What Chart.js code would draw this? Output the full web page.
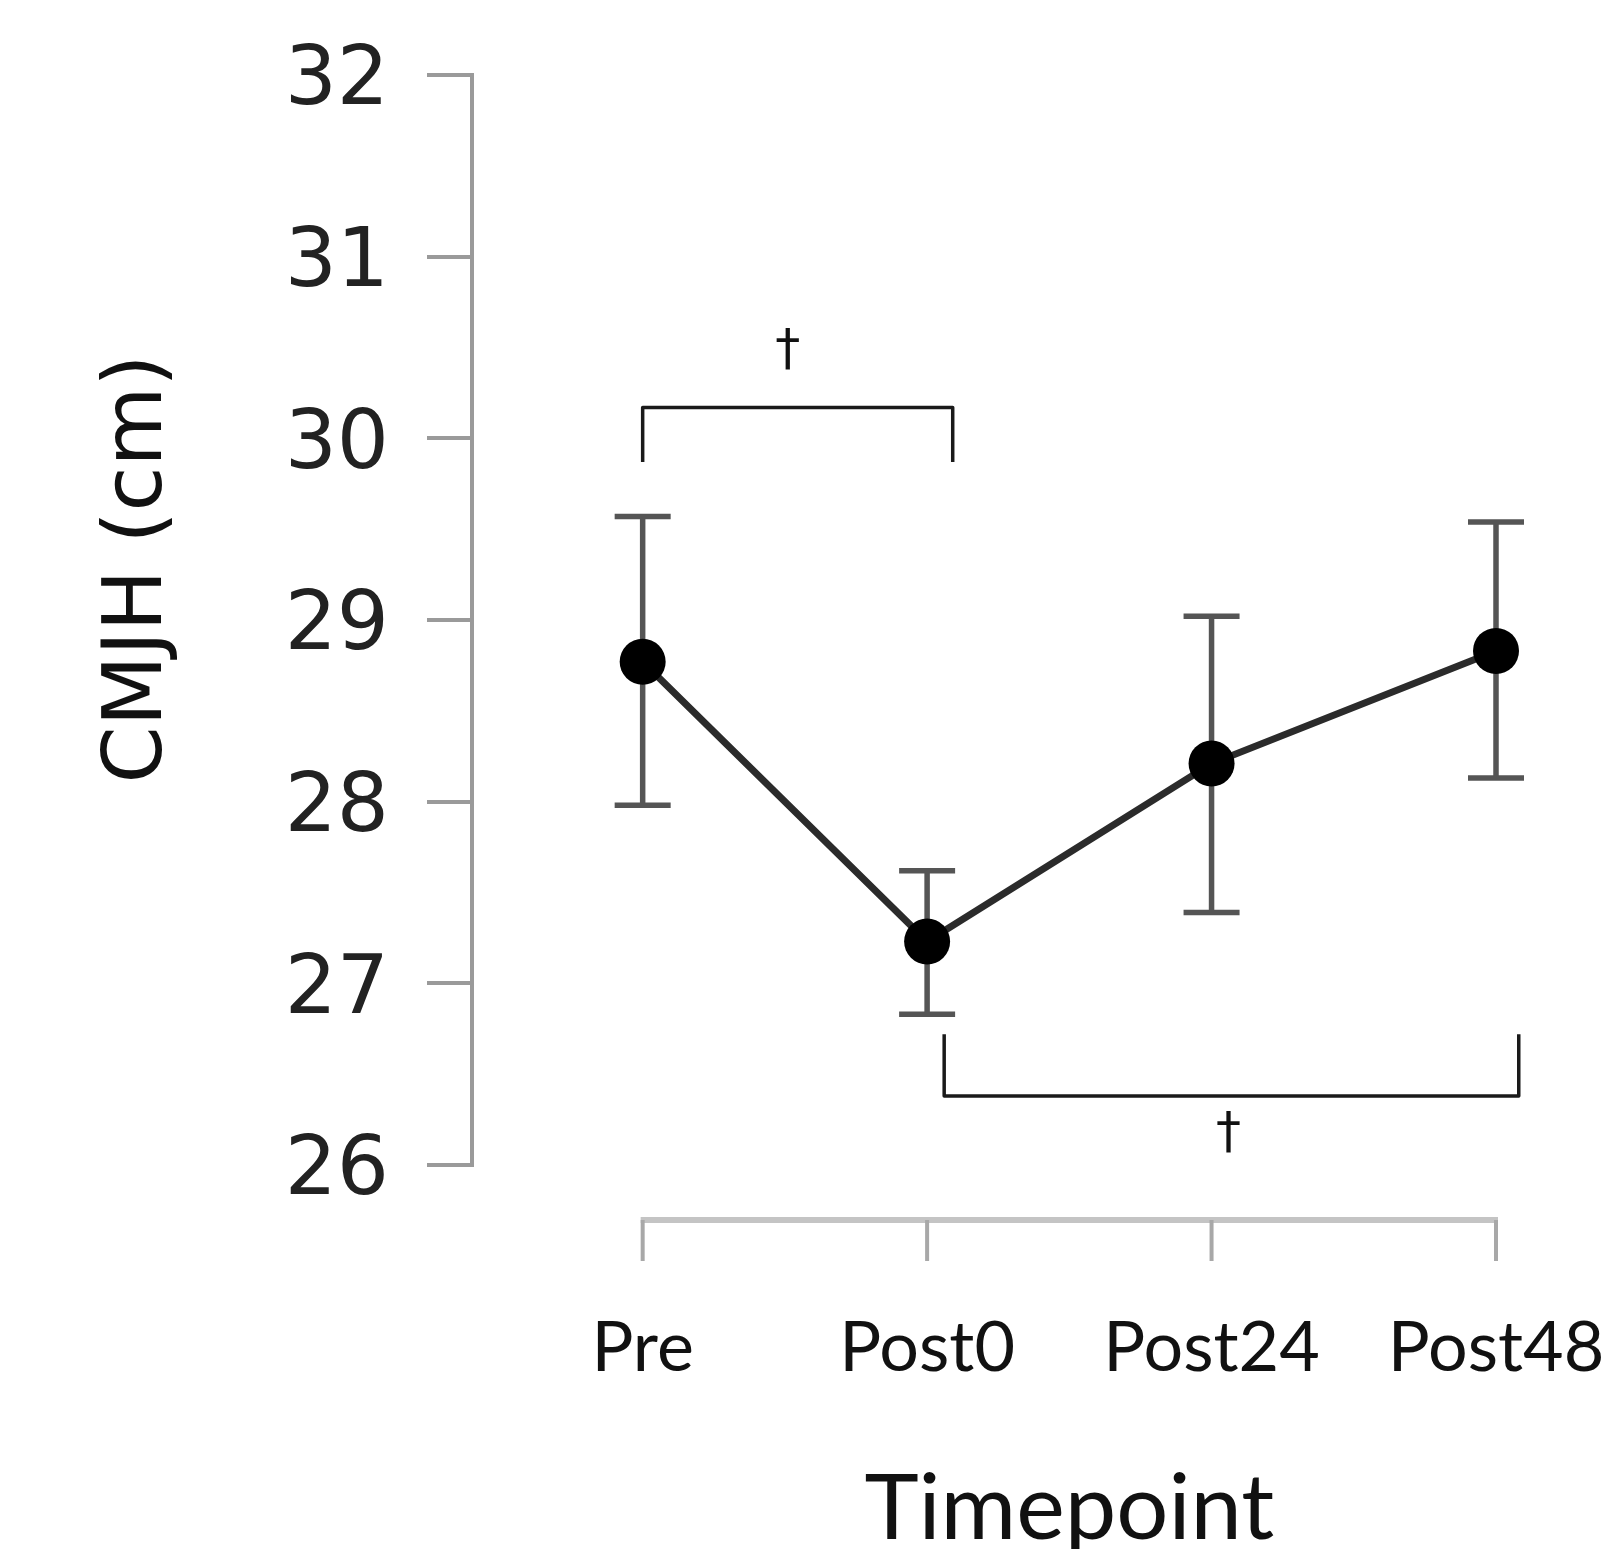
<!DOCTYPE html>
<html>
<head>
<meta charset="utf-8">
<script src="https://cdn.jsdelivr.net/npm/chart.js@4.4.1/dist/chart.umd.min.js"></script>
<style>
  html, body { margin: 0; padding: 0; background: #ffffff; }
  #wrap { width: 1621px; height: 1549px; position: relative; }
</style>
</head>
<body>
<div id="wrap"><canvas id="c" width="1621" height="1549"></canvas></div>
<script>
// ---- data ----
const categories = ['Pre', 'Post0', 'Post24', 'Post48'];
const meanCMJH  = [28.77, 27.23, 28.21, 28.83];
const upperCMJH = [29.57, 27.62, 29.02, 29.54];
const lowerCMJH = [27.98, 26.83, 27.39, 28.13];
const yMin = 26, yMax = 32, yStep = 1;
const yTitle = 'CMJH (cm)';
const xTitle = 'Timepoint';
// significance brackets
const bracketFrom = [0, 1.06];
const bracketTo   = [1.09, 3.08];
const bracketArm  = [29.87, 26.72];
const bracketBar  = [30.17, 26.38];
const bracketMarkX = [0.51, 2.06];
const bracketMarkY = [30.48, 26.17];
const bracketMark = ['†', '†'];

const points = meanCMJH.map((v, i) => ({ x: i, y: v }));

const decorPlugin = {
  id: 'decor',
  beforeDatasetsDraw(chart) {
    const { ctx, scales: { x, y } } = chart;
    ctx.save();
    ctx.strokeStyle = '#555555';
    ctx.lineWidth = 5.5;
    ctx.lineCap = 'butt';
    const cap = 28;
    meanCMJH.forEach((v, i) => {
      const px = x.getPixelForValue(i);
      const yt = y.getPixelForValue(upperCMJH[i]);
      const yb = y.getPixelForValue(lowerCMJH[i]);
      ctx.beginPath();
      ctx.moveTo(px, yt); ctx.lineTo(px, yb);
      ctx.moveTo(px - cap, yt); ctx.lineTo(px + cap, yt);
      ctx.moveTo(px - cap, yb); ctx.lineTo(px + cap, yb);
      ctx.stroke();
    });
    ctx.restore();
  },
  afterDraw(chart) {
    const { ctx, chartArea, scales: { x, y } } = chart;
    ctx.save();
    const xl = x.getPixelForValue(0);
    const xr = x.getPixelForValue(categories.length - 1);
    const ay = chartArea.bottom + 55;
    ctx.strokeStyle = '#c4c4c4';
    ctx.lineWidth = 6;
    ctx.beginPath();
    ctx.moveTo(xl - 2, ay); ctx.lineTo(xr + 2, ay);
    ctx.stroke();
    ctx.strokeStyle = '#a8a8a8';
    ctx.lineWidth = 4;
    categories.forEach((c, i) => {
      const px = x.getPixelForValue(i);
      ctx.beginPath();
      ctx.moveTo(px, ay); ctx.lineTo(px, ay + 41);
      ctx.stroke();
    });
    ctx.strokeStyle = '#1a1a1a';
    ctx.lineWidth = 3.5;
    ctx.lineJoin = 'round';
    ctx.fillStyle = '#111111';
    ctx.font = '50px "DejaVu Sans"';
    ctx.textAlign = 'center';
    ctx.textBaseline = 'middle';
    bracketFrom.forEach((f, k) => {
      const x1 = x.getPixelForValue(f);
      const x2 = x.getPixelForValue(bracketTo[k]);
      const ya = y.getPixelForValue(bracketArm[k]);
      const yb = y.getPixelForValue(bracketBar[k]);
      ctx.beginPath();
      ctx.moveTo(x1, ya); ctx.lineTo(x1, yb); ctx.lineTo(x2, yb); ctx.lineTo(x2, ya);
      ctx.stroke();
      ctx.fillText(bracketMark[k], x.getPixelForValue(bracketMarkX[k]), y.getPixelForValue(bracketMarkY[k]));
    });
    ctx.fillStyle = '#111111';
    ctx.font = '82px "DejaVu Sans"';
    ctx.save();
    ctx.translate(140, 569);
    ctx.rotate(-Math.PI / 2);
    ctx.fillText(yTitle, 0, 0);
    ctx.restore();
    ctx.font = '92px Lato';
    ctx.fillText(xTitle, (xl + xr) / 2, 1509);
    ctx.restore();
  }
};

new Chart(document.getElementById('c'), {
  type: 'line',
  data: {
    datasets: [{
      data: points,
      borderColor: '#2b2b2b',
      borderWidth: 7,
      pointRadius: 23,
      pointHoverRadius: 23,
      pointBackgroundColor: '#000000',
      pointBorderColor: '#000000',
      pointBorderWidth: 0,
      tension: 0,
      fill: false,
      clip: false
    }]
  },
  options: {
    responsive: false,
    animation: false,
    events: [],
    layout: { padding: { top: 75, right: 125, left: 0, bottom: 0 } },
    plugins: { legend: { display: false }, tooltip: { enabled: false } },
    scales: {
      x: {
        type: 'linear',
        min: -0.6,
        max: categories.length - 1,
        afterBuildTicks: (s) => { s.ticks = categories.map((c, i) => ({ value: i })); },
        afterFit: (s) => { s.height = 384; s.paddingLeft = 0; s.paddingRight = 0; },
        border: { display: false },
        grid: { display: false, drawTicks: false },
        ticks: {
          autoSkip: false,
          maxRotation: 0,
          padding: 141,
          color: '#111111',
          font: { family: 'Lato', size: 70 },
          callback: (v) => categories[v] ?? ''
        }
      },
      y: {
        min: yMin,
        max: yMax,
        afterFit: (s) => { s.width = 472; s.paddingTop = 0; s.paddingBottom = 0; },
        border: { display: true, color: '#9a9a9a', width: 4 },
        grid: { drawOnChartArea: false, drawTicks: true, tickLength: 45, color: '#9a9a9a', lineWidth: 4 },
        ticks: {
          stepSize: yStep,
          padding: 38,
          labelOffset: 8,
          color: '#222222',
          font: { family: 'DejaVu Sans', size: 82 }
        }
      }
    }
  },
  plugins: [decorPlugin]
});
</script>
</body>
</html>
